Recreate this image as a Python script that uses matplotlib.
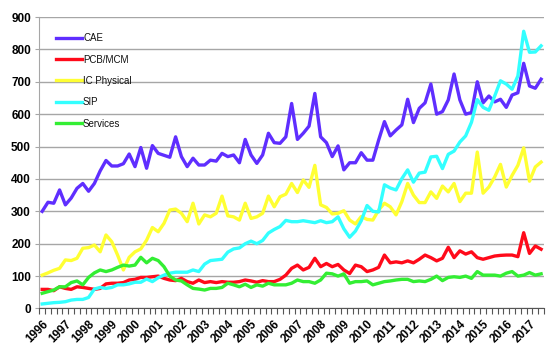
import numpy as np
import matplotlib
matplotlib.use('Agg')
import matplotlib.pyplot as plt

# valores trimestrais (1996 T1 em diante)
anos = [str(a) for a in range(1996, 2018)]

cae = [300, 328, 325, 366, 320, 341, 371, 386, 362, 386, 425, 457, 440, 440, 447, 477,
       438, 497, 433, 503, 479, 473, 467, 530, 469, 438, 464, 443, 443, 458, 455, 479,
       469, 474, 450, 522, 474, 448, 474, 541, 512,
       510, 530, 633, 522, 541, 563, 664, 530, 512, 469, 502, 428, 450, 450, 481, 458,
       458, 520, 577, 533, 551, 567, 646, 574, 618, 635, 693, 600, 608, 644, 724, 644,
       600, 605, 700, 635, 656, 638, 646, 621, 659, 666, 757, 687, 680, 708]

pcb = [59, 59, 55, 67, 62, 59, 67, 65, 62, 59, 62, 76, 78, 78, 80, 88, 90, 96, 96, 98,
       100, 93, 88, 86, 93, 83, 78, 88, 80, 83, 80, 83, 81, 81, 83, 88, 85, 81, 86, 83, 83,
       90, 103, 124, 134, 119, 127, 155, 129, 139, 129, 136, 119, 108, 134, 129, 114, 119,
       127, 165, 141, 144, 141, 147, 141, 152, 165, 157, 147, 155, 189, 157, 178, 168, 175,
       157, 152, 157, 162, 164, 165, 165, 160, 234, 170, 193, 183]

ic_physical = [103, 110, 118, 124, 150, 148, 155, 186, 188, 196, 175, 227, 206, 165, 119,
               158, 175, 184, 211, 250, 237, 263, 304, 307, 294, 268, 325, 261, 289, 283,
               294, 347, 286, 283, 273, 325, 278, 283, 294, 347, 314,
               345, 353, 386, 358, 397, 374, 442, 320, 312, 292, 294, 302, 273, 261, 284,
               275, 273, 304, 325, 314, 289, 330, 386, 350, 327, 327, 360, 340, 378, 360,
               386, 330, 356, 356, 483, 356, 375, 406, 445, 375, 411, 442, 496, 393, 437, 452]

sip = [14, 16, 18, 19, 21, 26, 28, 28, 34, 60, 65, 62, 65, 73, 73, 76, 81, 81, 91, 83,
       95, 103, 109, 112, 112, 112, 119, 114, 137, 148, 150, 152, 174, 184, 187, 200, 208,
       200, 210, 233, 244,
       253, 272, 268, 268, 271, 268, 265, 271, 265, 268, 283, 246, 220, 239, 271, 318, 300,
       298, 382, 372, 366, 401, 428, 390, 418, 421, 468, 470, 432, 476, 486, 514, 533, 575,
       645, 621, 612, 656, 703, 693, 677, 718, 856, 791, 792, 811]

services = [47, 52, 57, 67, 67, 80, 85, 73, 96, 110, 119, 114, 119, 127, 134, 131, 134,
            158, 141, 155, 148, 129, 100, 88, 85, 73, 62, 60, 57, 62, 62, 65, 78, 73, 67,
            75, 65, 73, 69, 78, 73,
            73, 73, 78, 88, 83, 83, 78, 88, 109, 107, 100, 107, 78, 83, 83, 85, 73, 78, 83,
            85, 88, 90, 90, 83, 85, 83, 90, 100, 86, 96, 98, 96, 100, 93, 114, 103, 103, 103,
            100, 109, 114, 100, 103, 111, 103, 107]

series = [
    ('CAE', cae, '#5f2eff'),
    ('PCB/MCM', pcb, '#ff0a1a'),
    ('IC Physical', ic_physical, '#ffff33'),
    ('SIP', sip, '#33ffff'),
    ('Services', services, '#33ee33'),
]

plt.rcParams['font.family'] = ['Liberation Sans', 'DejaVu Sans']

fig = plt.figure(figsize=(5.47, 3.52), dpi=100)
ax = fig.add_axes([0.0718, 0.1236, 0.9227, 0.8281])

n = len(cae)
x = np.arange(n)
for nome, valores, cor in series:
    ax.plot(x, valores, color=cor, lw=2.4, label=nome, solid_joinstyle='round')

ax.set_xlim(-0.5, n - 0.5)
ax.set_ylim(0, 900)
ax.set_yticks(range(0, 901, 100))
ax.yaxis.grid(True, color='#a6a6a6', lw=1)
ax.set_axisbelow(True)

pos_anos = np.arange(0, n, 4)
ax.set_xticks(pos_anos)
ax.set_xticklabels(anos, rotation=45, ha='right', va='top', rotation_mode='anchor',
                   fontweight='bold', fontsize=8.5)
ax.set_xticks(np.arange(n + 1) - 0.5, minor=True)
ax.tick_params(axis='x', which='major', length=0, pad=7)
ax.tick_params(axis='x', which='minor', length=4, color='#555555', width=0.8)
ax.tick_params(axis='y', length=3, color='#a6a6a6', labelsize=8.5, pad=3)
for t in ax.get_yticklabels():
    t.set_fontweight('bold')

for lado in ['top', 'right']:
    ax.spines[lado].set_visible(False)
ax.spines['left'].set_color('#a6a6a6')
ax.spines['bottom'].set_color('#555555')

leg = ax.legend(loc='upper left', bbox_to_anchor=(0.025, 0.958), frameon=False,
                fontsize=7, handlelength=2.7, handletextpad=0.1, labelspacing=1.17,
                borderaxespad=0)
for t in leg.get_texts():
    t.set_color('#111111')

fig.savefig('out.png', dpi=100)
